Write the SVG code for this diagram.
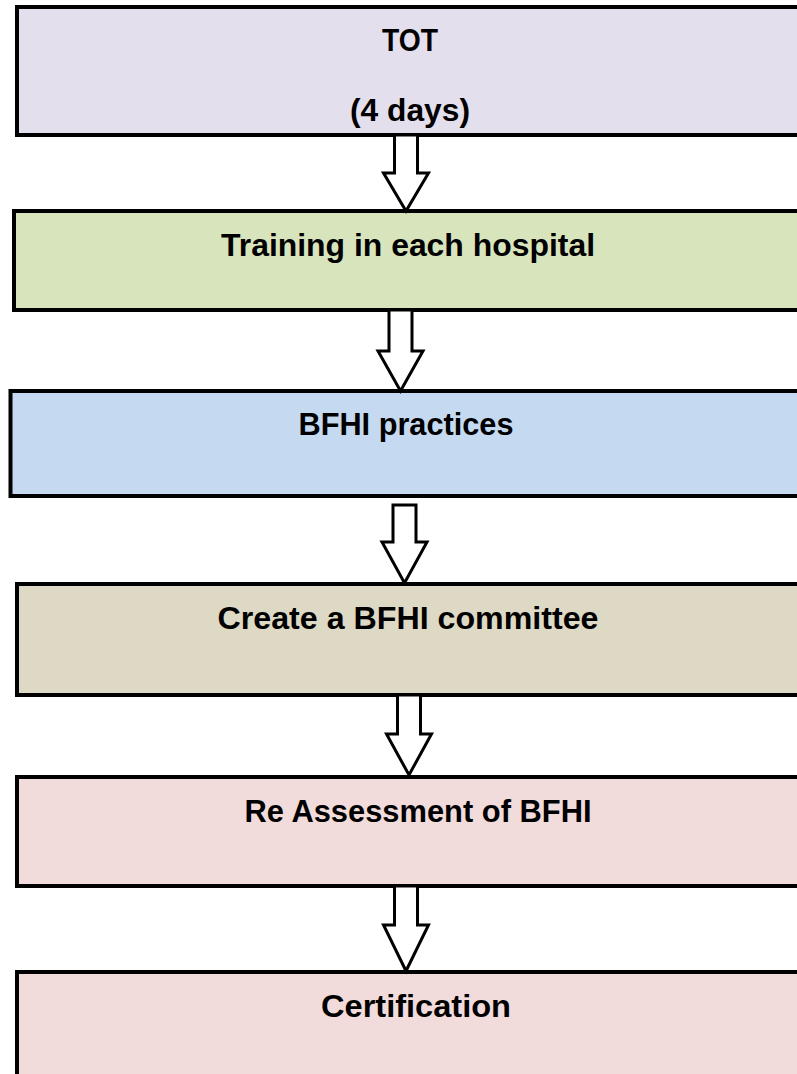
<svg xmlns="http://www.w3.org/2000/svg" width="797" height="1074" viewBox="0 0 797 1074">
<style>
.box{stroke:#000;stroke-width:4}
.lbl{font-family:"Liberation Sans",Arial,sans-serif;font-weight:bold;font-size:31px;fill:#000;text-anchor:middle}
.arr{fill:#fff;stroke:#000;stroke-width:3;stroke-linejoin:miter}
</style>
<rect width="797" height="1074" fill="#fff"/>
<g id="node-tot">
<rect class="box" x="17" y="7" width="800" height="128" fill="#E4DFEC"/>
<text class="lbl" x="410" y="51" textLength="56" lengthAdjust="spacingAndGlyphs">TOT</text>
<text class="lbl" x="410" y="121" textLength="120" lengthAdjust="spacingAndGlyphs">(4 days)</text>
</g>
<g id="node-training">
<rect class="box" x="14" y="211" width="800" height="99" fill="#D8E4BC"/>
<text class="lbl" x="408" y="256" textLength="374" lengthAdjust="spacingAndGlyphs">Training in each hospital</text>
</g>
<g id="node-practices">
<rect class="box" x="10.5" y="391" width="800" height="105" fill="#C5D9F1"/>
<text class="lbl" x="406" y="435" textLength="215" lengthAdjust="spacingAndGlyphs">BFHI practices</text>
</g>
<g id="node-committee">
<rect class="box" x="17" y="584" width="800" height="111" fill="#DDD9C4"/>
<text class="lbl" x="408" y="629" textLength="381" lengthAdjust="spacingAndGlyphs">Create a BFHI committee</text>
</g>
<g id="node-reassessment">
<rect class="box" x="17" y="777" width="800" height="109" fill="#F2DCDB"/>
<text class="lbl" x="418" y="822" textLength="347" lengthAdjust="spacingAndGlyphs">Re Assessment of BFHI</text>
</g>
<g id="node-certification">
<rect class="box" x="17" y="972" width="800" height="130" fill="#F2DCDB"/>
<text class="lbl" x="416" y="1017" textLength="190" lengthAdjust="spacingAndGlyphs">Certification</text>
</g>
<g id="connectors">
<polygon class="arr" points="394.5,135 417.5,135 417.5,173 428.5,173 406,211 383.5,173 394.5,173"/>
<polygon class="arr" points="389,310 412,310 412,351 423,351 400.5,391 378,351 389,351"/>
<polygon class="arr" points="393,505 416,505 416,542 427,542 404.5,583 382,542 393,542"/>
<polygon class="arr" points="397.5,695 420.5,695 420.5,734 431.5,734 409,775 386.5,734 397.5,734"/>
<polygon class="arr" points="394.5,886 417.5,886 417.5,925 428.5,925 406,971 383.5,925 394.5,925"/>
</g>
</svg>
